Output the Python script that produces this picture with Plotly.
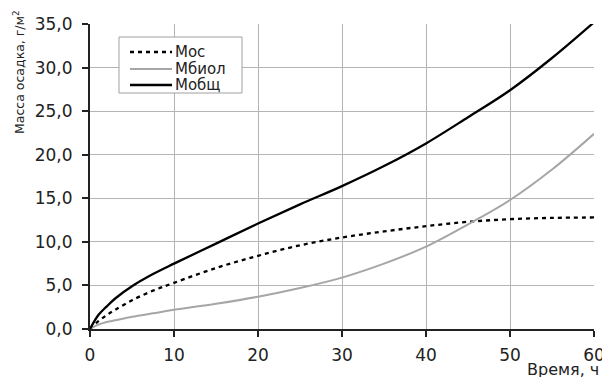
import plotly.graph_objects as go

time_h = [0, 1, 2, 3, 5, 7.5, 10, 15, 20, 25, 30, 35, 40, 45, 50, 55, 60]
m_os = [0, 0.9, 1.6, 2.2, 3.3, 4.4, 5.3, 7.0, 8.4, 9.6, 10.5, 11.2, 11.8, 12.3, 12.6, 12.75, 12.8]
m_biol = [0, 0.5, 0.8, 1.0, 1.4, 1.8, 2.2, 2.9, 3.7, 4.7, 5.9, 7.5, 9.45, 12.0, 14.8, 18.3, 22.4]
m_total = [0, 1.6, 2.6, 3.5, 4.9, 6.3, 7.5, 9.8, 12.1, 14.3, 16.4, 18.7, 21.3, 24.3, 27.4, 31.1, 35.2]

series_names = ["Мос", "Мбиол", "Мобщ"]
series_colors = ["black", "#a6a6a6", "black"]
series_widths = [2.3, 2, 2.3]
series_dash = ["4px,4px", "solid", "solid"]

x_ticks = [0, 10, 20, 30, 40, 50, 60]
x_ticktext = ["0", "10", "20", "30", "40", "50", "60"]
y_ticks = [0, 5, 10, 15, 20, 25, 30, 35]
y_ticktext = ["0,0", "5,0", "10,0", "15,0", "20,0", "25,0", "30,0", "35,0"]

W, H = 602, 377
L, R, T, B = 90, 8, 24, 48
PW, PH = W - L - R, H - T - B


def px_x(p):
    return (p - L) / PW


def px_y(p):
    return (H - B - p) / PH


fig = go.Figure()
for name, ys, c, w, d in zip(series_names, [m_os, m_biol, m_total], series_colors, series_widths, series_dash):
    fig.add_trace(go.Scatter(x=time_h, y=ys, name=name, mode="lines",
                             line=dict(color=c, width=w, dash=d, shape="spline"),
                             showlegend=False, cliponaxis=False))

font_family = "DejaVu Sans, Verdana, sans-serif"
text_color = "#222222"

shapes = [dict(type="rect", xref="paper", yref="paper",
               x0=px_x(119), x1=px_x(242), y0=px_y(93), y1=px_y(37),
               line=dict(color="#a0a0a0", width=1), fillcolor="white", layer="above")]
annotations = []
row_y = [52, 69, 85]
for name, c, w, d, ry in zip(series_names, series_colors, series_widths, series_dash, row_y):
    shapes.append(dict(type="line", xref="paper", yref="paper",
                       x0=px_x(130), x1=px_x(172), y0=px_y(ry), y1=px_y(ry),
                       line=dict(color=c, width=w, dash=d),
                       layer="above"))
    annotations.append(dict(text=name, xref="paper", yref="paper",
                            x=px_x(173), y=px_y(ry), xanchor="left", yanchor="middle",
                            showarrow=False, font=dict(size=15, color=text_color)))

annotations += [
    dict(text="Масса осадка, г/м<sup>2</sup>", xref="paper", yref="paper",
         x=px_x(19), y=px_y(72), xanchor="center", yanchor="middle",
         textangle=-90, showarrow=False, font=dict(size=12.5, color=text_color)),
    dict(text="Время, ч", xref="paper", yref="paper",
         x=px_x(563), y=px_y(369), xanchor="center", yanchor="middle",
         showarrow=False, font=dict(size=16, color=text_color)),
]

fig.update_layout(
    width=W, height=H,
    margin=dict(l=L, r=R, t=T, b=B, autoexpand=False),
    paper_bgcolor="white", plot_bgcolor="white",
    font=dict(family=font_family, color=text_color),
    showlegend=False,
    xaxis=dict(range=[0, 60], tickvals=x_ticks, ticktext=x_ticktext,
               showgrid=True, gridcolor="#b4b4b4", gridwidth=1,
               showline=True, linecolor="#222222", linewidth=2,
               ticks="outside", ticklen=6, tickwidth=2, tickcolor="#222222",
               tickfont=dict(size=17), zeroline=False, ticklabeloverflow="allow",
               ticklabelstandoff=4, automargin=False),
    yaxis=dict(range=[0, 35], tickvals=y_ticks, ticktext=y_ticktext,
               showgrid=True, gridcolor="#b4b4b4", gridwidth=1,
               showline=True, linecolor="#222222", linewidth=2,
               ticks="outside", ticklen=6, tickwidth=2, tickcolor="#222222",
               tickfont=dict(size=17), zeroline=False, ticklabelstandoff=6,
               automargin=False),
    shapes=shapes,
    annotations=annotations,
)

fig.write_html("out.html")
